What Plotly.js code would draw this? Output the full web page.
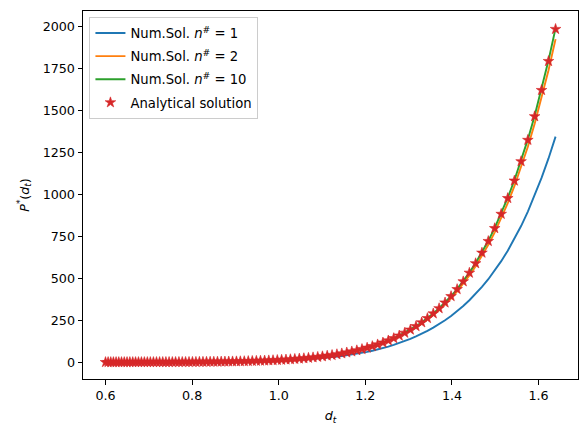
<!DOCTYPE html>
<html>
<head>
<meta charset="utf-8">
<script src="https://cdn.plot.ly/plotly-3.0.1.min.js"></script>
<style>html,body{margin:0;padding:0;background:#fff;}#chart{width:587px;height:436px;}</style>
</head>
<body>
<div id="chart"></div>
<script>
// d_t grid
const dt = [0.6000,0.6060,0.6121,0.6182,0.6244,0.6306,0.6369,0.6433,0.6497,0.6562,
0.6628,0.6694,0.6761,0.6829,0.6897,0.6966,0.7035,0.7106,0.7177,0.7249,
0.7321,0.7394,0.7468,0.7543,0.7618,0.7695,0.7772,0.7849,0.7928,0.8007,
0.8087,0.8168,0.8250,0.8332,0.8416,0.8500,0.8585,0.8671,0.8757,0.8845,
0.8933,0.9023,0.9113,0.9204,0.9296,0.9389,0.9483,0.9578,0.9674,0.9770,
0.9868,0.9967,1.0066,1.0167,1.0269,1.0371,1.0475,1.0580,1.0686,1.0792,
1.0900,1.1009,1.1119,1.1231,1.1343,1.1456,1.1571,1.1687,1.1803,1.1922,
1.2041,1.2161,1.2283,1.2406,1.2530,1.2655,1.2782,1.2909,1.3039,1.3169,
1.3301,1.3433,1.3568,1.3703,1.3840,1.3979,1.4119,1.4260,1.4402,1.4546,
1.4692,1.4839,1.4987,1.5137,1.5288,1.5441,1.5596,1.5752,1.5909,1.6068,
1.6229,1.6392];

// Analytical solution P*(d_t)
const pAnalytical = [0.07,0.08,0.09,0.10,0.11,0.12,0.13,0.15,0.16,0.18,
0.20,0.22,0.24,0.27,0.30,0.33,0.36,0.40,0.45,0.50,
0.55,0.60,0.67,0.74,0.82,0.91,1.0,1.1,1.2,1.4,
1.5,1.7,1.8,2.0,2.3,2.5,2.8,3.1,3.4,3.8,
4.2,4.6,5.1,5.6,6.2,6.9,7.6,8.4,9.3,10.3,
11.4,12.6,13.9,15.4,17.1,18.9,20.9,23.1,25.6,28.3,
31.3,34.6,38.3,42.4,46.9,51.9,57.5,63.6,70.4,77.8,
86.1,95.3,105.5,116.7,129.1,142.9,158.1,175.0,193.6,214.2,
237.0,262.3,290.2,321.1,355.3,393.2,435.1,481.4,532.7,589.4,
652.2,721.7,798.5,883.6,977.8,1081.9,1197.2,1324.7,1465.8,1622.0,
1794.8,1986.0];

// Numerical solution n# = 1
const pN1 = [0.05,0.06,0.06,0.07,0.08,0.09,0.09,0.11,0.12,0.13,
0.14,0.16,0.17,0.19,0.22,0.24,0.26,0.29,0.32,0.36,
0.40,0.43,0.48,0.53,0.59,0.66,0.72,0.79,0.86,1.0,
1.1,1.2,1.3,1.4,1.7,1.8,2.0,2.2,2.4,2.7,
3.0,3.3,3.7,4.0,4.5,5.0,5.5,6.0,6.7,7.4,
8.2,9.1,10.0,11.1,12.3,13.6,15.0,16.6,18.4,20.4,
22.5,24.9,27.6,30.5,33.8,37.4,41.4,45.8,50.7,56.0,
62.0,68.6,75.9,84.0,92.9,102.9,113.8,126.0,139.4,154.2,
169.5,187.0,206.0,227.0,250.0,275.8,304.0,335.0,369.4,407.2,
449.0,495.0,546.0,602.5,665.0,734.0,812.0,898.0,993.0,1099.0,
1215.0,1345.0];

// Numerical solution n# = 2
const pN2 = [0.07,0.08,0.09,0.10,0.11,0.12,0.13,0.15,0.16,0.17,
0.19,0.21,0.23,0.26,0.29,0.32,0.35,0.39,0.44,0.49,
0.53,0.58,0.65,0.72,0.80,0.88,0.97,1.07,1.16,1.36,
1.46,1.65,1.75,1.94,2.2,2.4,2.7,3.0,3.3,3.7,
4.1,4.5,4.9,5.4,6.0,6.7,7.4,8.1,9.0,10.0,
11.1,12.2,13.5,14.9,16.6,18.3,20.3,22.4,24.8,27.5,
30.4,33.6,37.2,41.1,45.5,50.3,55.8,61.7,68.3,75.5,
83.5,92.4,102.3,113.2,125.2,138.6,153.4,169.8,187.8,207.8,
229.9,254.4,281.5,311.5,344.6,381.4,422.0,467.0,516.7,571.7,
632.6,700.0,774.5,857.1,948.5,1049.4,1161.3,1285.0,1421.8,1573.3,
1741.0,1926.4];

// Numerical solution n# = 10
const pN10 = [0.07,0.08,0.09,0.10,0.11,0.12,0.13,0.15,0.16,0.18,
0.20,0.22,0.24,0.27,0.30,0.33,0.36,0.40,0.45,0.50,
0.55,0.60,0.67,0.74,0.82,0.91,1.0,1.1,1.2,1.4,
1.5,1.7,1.8,2.0,2.3,2.5,2.8,3.1,3.4,3.8,
4.2,4.6,5.1,5.6,6.2,6.9,7.6,8.4,9.3,10.3,
11.4,12.6,13.9,15.4,17.1,18.9,20.9,23.1,25.6,28.3,
31.3,34.6,38.3,42.4,46.9,52.0,57.6,63.7,70.5,78.0,
86.3,95.5,105.7,117.0,129.4,143.2,158.5,175.4,194.1,214.8,
237.6,263.0,291.0,322.0,356.3,394.3,436.3,482.8,534.2,591.1,
654.1,723.8,800.8,886.2,980.6,1085.0,1200.6,1328.5,1470.0,1626.6,
1799.8,1991.0];

const yTicks = [0, 250, 500, 750, 1000, 1250, 1500, 1750, 2000];
const xTicks = [0.6, 0.8, 1.0, 1.2, 1.4, 1.6];
const xTickText = ['0.6', '0.8', '1.0', '1.2', '1.4', '1.6'];

const seriesNames = [
  'Num.Sol. <i>n</i><sup>#</sup> = 1',
  'Num.Sol. <i>n</i><sup>#</sup> = 2',
  'Num.Sol. <i>n</i><sup>#</sup> = 10',
  'Analytical solution'
];

const font = {family: 'DejaVu Sans, sans-serif', size: 12.7, color: '#000'};
const legendFont = {family: 'DejaVu Sans, sans-serif', size: 13.2, color: '#000'};

const traces = [
  {x: dt, y: pN1, mode: 'lines', name: seriesNames[0], legendgroup: 'a',
   line: {color: '#1f77b4', width: 1.9}},
  {x: dt, y: pN2, mode: 'lines', name: seriesNames[1], legendgroup: 'b',
   line: {color: '#ff7f0e', width: 1.9}},
  {x: dt, y: pN10, mode: 'lines', name: seriesNames[2], legendgroup: 'c',
   line: {color: '#2ca02c', width: 1.9}},
  {x: dt, y: pAnalytical, mode: 'markers', name: seriesNames[3], legendgroup: 'd',
   marker: {symbol: 'star', color: '#d62728', size: 8, line: {width: 0.6, color: '#d62728'}}}
];

const axisCommon = {
  showgrid: false, zeroline: false, showline: true, mirror: true,
  linecolor: '#000', linewidth: 1, ticks: 'outside', ticklen: 4.5,
  tickwidth: 1, tickcolor: '#000', tickfont: font
};

const layout = {
  width: 587, height: 436,
  margin: {l: 82.5, r: 8.5, t: 11, b: 57},
  paper_bgcolor: '#fff', plot_bgcolor: '#fff',
  font: font,
  showlegend: true,
  legend: {
    x: 0.013, y: 0.984, xanchor: 'left', yanchor: 'top',
    bgcolor: 'rgba(255,255,255,0.8)', bordercolor: '#cccccc', borderwidth: 1,
    font: legendFont, tracegroupgap: 3, traceorder: 'grouped'
  },
  xaxis: Object.assign({}, axisCommon, {
    range: [0.548, 1.691], tickvals: xTicks, ticktext: xTickText,
    title: {text: '<i>d</i><sub><i>t</i></sub>', font: font, standoff: 9}
  }),
  yaxis: Object.assign({}, axisCommon, {
    range: [-100, 2094], tickvals: yTicks,
    title: {text: '<i>P</i><sup>*</sup>(<i>d</i><sub><i>t</i></sub>)', font: font, standoff: 10}
  })
};

Plotly.newPlot('chart', traces, layout, {displayModeBar: false, staticPlot: true});
</script>
</body>
</html>
